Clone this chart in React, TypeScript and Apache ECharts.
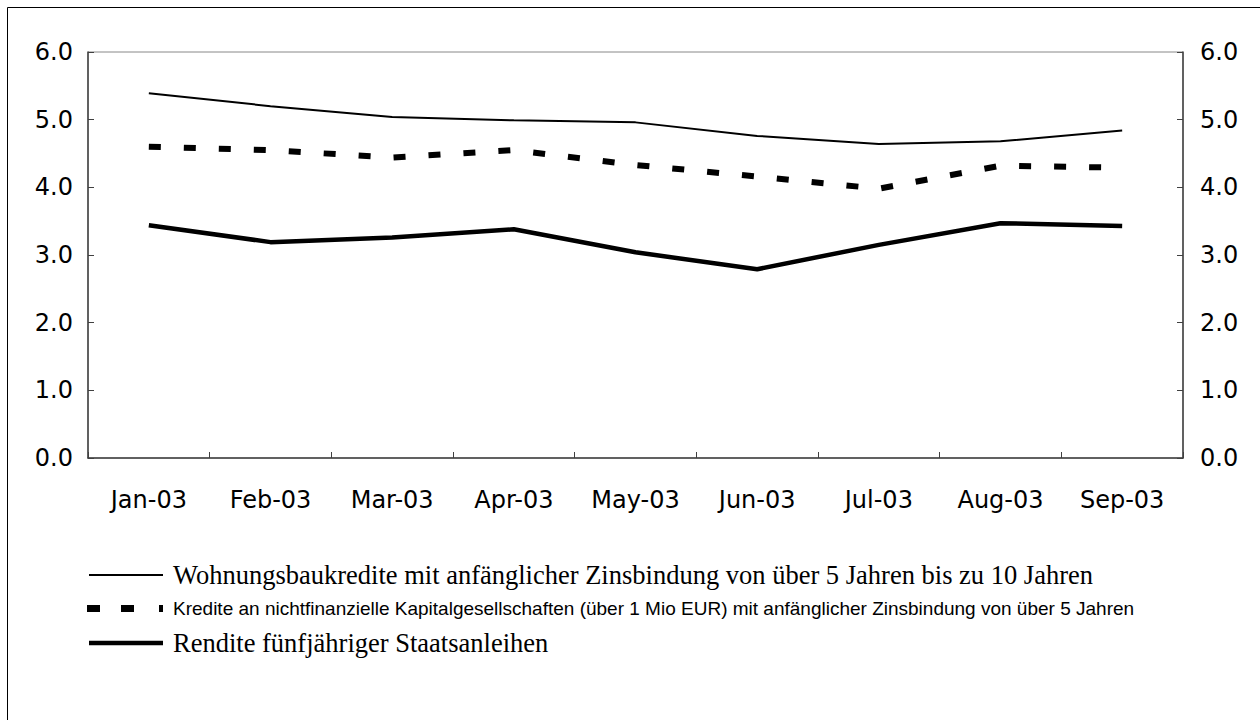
import React, { useEffect, useRef } from "react";
import * as echarts from "echarts";

const categories = ["Jan-03", "Feb-03", "Mar-03", "Apr-03", "May-03", "Jun-03", "Jul-03", "Aug-03", "Sep-03"];
const wohnungsbau = [5.39, 5.2, 5.04, 4.99, 4.96, 4.76, 4.64, 4.68, 4.84];
const kredite = [4.6, 4.55, 4.44, 4.55, 4.33, 4.16, 3.98, 4.32, 4.29];
const rendite = [3.44, 3.19, 3.26, 3.38, 3.04, 2.79, 3.15, 3.47, 3.43];
const yMin = 0;
const yMax = 6;
const yStep = 1;
const seriesNames = [
  "Wohnungsbaukredite mit anfänglicher Zinsbindung von über 5 Jahren bis zu 10 Jahren",
  "Kredite an nichtfinanzielle Kapitalgesellschaften (über 1 Mio EUR) mit anfänglicher Zinsbindung von über 5 Jahren",
  "Rendite fünfjähriger Staatsanleihen",
];

const axisFont = "'DejaVu Sans', Verdana, sans-serif";
const serifFont = "'Liberation Serif', 'Times New Roman', serif";
const sansFont = "'Liberation Sans', Arial, sans-serif";

export default function App() {
  const ref = useRef<HTMLDivElement>(null);
  useEffect(() => {
    if (!ref.current) return;
    const chart = echarts.init(ref.current, undefined, { renderer: "svg" });
    const yAxisCommon = {
      type: "value",
      min: yMin,
      max: yMax,
      interval: yStep,
      splitLine: { show: false },
      axisLine: { show: true, lineStyle: { color: "#404040", width: 1.5 } },
      axisTick: { show: true, inside: true, length: 6, lineStyle: { color: "#404040" } },
      axisLabel: {
        color: "#000",
        fontFamily: axisFont,
        fontSize: 24,
        formatter: (v: number) => v.toFixed(1),
      },
    };
    chart.setOption({
      animation: false,
      backgroundColor: "#fff",
      grid: {
        left: 88,
        right: 77,
        top: 52,
        bottom: 262,
        show: true,
        borderColor: "#888",
        borderWidth: 1,
        containLabel: false,
      },
      xAxis: {
        type: "category",
        data: categories,
        boundaryGap: true,
        axisLine: { show: true, lineStyle: { color: "#404040", width: 1.5 } },
        axisTick: { show: true, inside: true, length: 6, alignWithLabel: false, lineStyle: { color: "#404040" } },
        axisLabel: { color: "#000", fontFamily: axisFont, fontSize: 24, margin: 30, interval: 0 },
        splitLine: { show: false },
      },
      yAxis: [
        { ...yAxisCommon, position: "left", axisLabel: { ...yAxisCommon.axisLabel, margin: 15 } },
        { ...yAxisCommon, position: "right", axisLabel: { ...yAxisCommon.axisLabel, margin: 17 } },
      ],
      series: [
        {
          name: seriesNames[0],
          type: "line",
          data: wohnungsbau,
          symbol: "none",
          lineStyle: { color: "#000", width: 2 },
        },
        {
          name: seriesNames[1],
          type: "line",
          data: kredite,
          symbol: "none",
          lineStyle: { color: "#000", width: 6, type: [12, 23], cap: "butt" },
        },
        {
          name: seriesNames[2],
          type: "line",
          data: rendite,
          symbol: "none",
          lineStyle: { color: "#000", width: 4.5 },
        },
      ],
      graphic: [
        {
          type: "polyline",
          shape: { points: [[7.5, 730], [7.5, 7.5], [1270, 7.5]] },
          style: { stroke: "#000", lineWidth: 1, fill: "none" },
          silent: true,
        },
        {
          type: "line",
          shape: { x1: 89, y1: 575, x2: 163, y2: 575 },
          style: { stroke: "#000", lineWidth: 2 },
        },
        {
          type: "text",
          x: 173,
          y: 575,
          style: { text: seriesNames[0], fontFamily: serifFont, fontSize: 26.5, fill: "#000", verticalAlign: "middle" },
        },
        { type: "rect", shape: { x: 87, y: 605, width: 13, height: 7 }, style: { fill: "#000" } },
        { type: "rect", shape: { x: 121, y: 605, width: 13, height: 7 }, style: { fill: "#000" } },
        { type: "rect", shape: { x: 159, y: 605, width: 4, height: 7 }, style: { fill: "#000" } },
        {
          type: "text",
          x: 173,
          y: 608,
          style: { text: seriesNames[1], fontFamily: sansFont, fontSize: 19, fill: "#000", verticalAlign: "middle" },
        },
        {
          type: "line",
          shape: { x1: 89, y1: 643, x2: 163, y2: 643 },
          style: { stroke: "#000", lineWidth: 4.5 },
        },
        {
          type: "text",
          x: 173,
          y: 643,
          style: { text: seriesNames[2], fontFamily: serifFont, fontSize: 26.5, fill: "#000", verticalAlign: "middle" },
        },
      ],
    });
    return () => chart.dispose();
  }, []);
  return (
    <div
      ref={ref}
      style={{ position: "absolute", left: 0, top: 0, width: 1260, height: 720, background: "#fff" }}
    />
  );
}
